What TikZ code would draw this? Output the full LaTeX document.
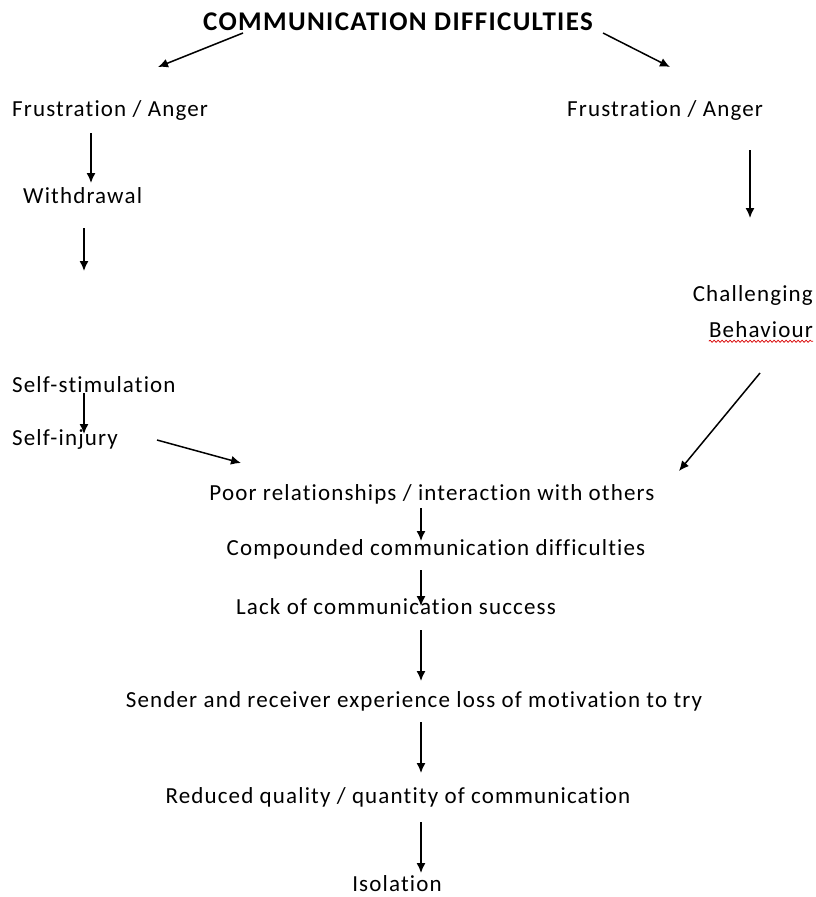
\documentclass[tikz,border=0pt]{standalone}
\usepackage{fontspec}
\setmainfont[LetterSpace=5,Ligatures={NoCommon,NoRare}]{Carlito}
\usetikzlibrary{arrows.meta,decorations.pathmorphing}
\begin{document}
\begin{tikzpicture}[x=1pt,y=-1pt,
  lbl/.style={inner sep=0pt,font=\fontsize{23}{27}\selectfont},
  ttl/.style={inner sep=0pt,font=\fontsize{27}{31}\selectfont\bfseries},
  flow/.style={line width=1.5pt,-{Latex[length=10pt,width=9pt]}}]
\useasboundingbox (0,0) rectangle (816,897);
\fill[white] (0,0) rectangle (816,897);

% labels
\node[ttl] (title) at (398,22) {COMMUNICATION DIFFICULTIES};
\node[lbl,anchor=west] (fl) at (12,110) {Frustration / Anger};
\node[lbl,anchor=west] (fr) at (567,110) {Frustration / Anger};
\node[lbl,anchor=west] (wd) at (23,196) {Withdrawal};
\node[lbl,anchor=east] (ch) at (813,295) {Challenging};
\node[lbl,anchor=east] (bh) at (813,330) {Behaviour};
\node[lbl,anchor=west] (ss) at (12,385) {Self-stimulation};
\node[lbl,anchor=west] (si) at (12,439) {Self-injury};
\node[lbl] (pr) at (432,494) {Poor relationships / interaction with others};
\node[lbl] (cc) at (436,549) {Compounded communication difficulties};
\node[lbl] (lc) at (396,607) {Lack of communication success};
\node[lbl] (sr) at (414,701) {Sender and receiver experience loss of motivation to try};
\node[lbl] (rq) at (398,797) {Reduced quality / quantity of communication};
\node[lbl] (is) at (397,884) {Isolation};

% spelling mark under "Behaviour"
\draw[red!85!black,line width=0.7pt,decorate,
  decoration={snake,amplitude=1.1pt,segment length=4pt}]
  ([yshift=-3pt]bh.south west) -- ([yshift=-3pt]bh.south east);

% arrow end points
\coordinate (a1s) at (243,33);  \coordinate (a1e) at (158,67);
\coordinate (a2s) at (603,33);  \coordinate (a2e) at (670,67);
\coordinate (a3s) at (91,133);  \coordinate (a3e) at (91,183);
\coordinate (a4s) at (84,228);  \coordinate (a4e) at (84,271);
\coordinate (a5s) at (750,150); \coordinate (a5e) at (750,218);
\coordinate (a6s) at (84,393);  \coordinate (a6e) at (84,434);
\coordinate (a7s) at (157,440); \coordinate (a7e) at (241,463);
\coordinate (a8s) at (760,373); \coordinate (a8e) at (679,471);
\coordinate (a9s) at (421,508); \coordinate (a9e) at (421,541);
\coordinate (b1s) at (421,570); \coordinate (b1e) at (421,606);
\coordinate (b2s) at (421,630); \coordinate (b2e) at (421,681);
\coordinate (b3s) at (421,722); \coordinate (b3e) at (421,773);
\coordinate (b4s) at (421,822); \coordinate (b4e) at (421,873);

% arrows
\foreach \s/\e in {a1s/a1e,a2s/a2e,a3s/a3e,a4s/a4e,a5s/a5e,a6s/a6e,
                   a7s/a7e,a8s/a8e,a9s/a9e,b1s/b1e,b2s/b2e,b3s/b3e,b4s/b4e}
  \draw[flow] (\s) -- (\e);
\end{tikzpicture}
\end{document}
